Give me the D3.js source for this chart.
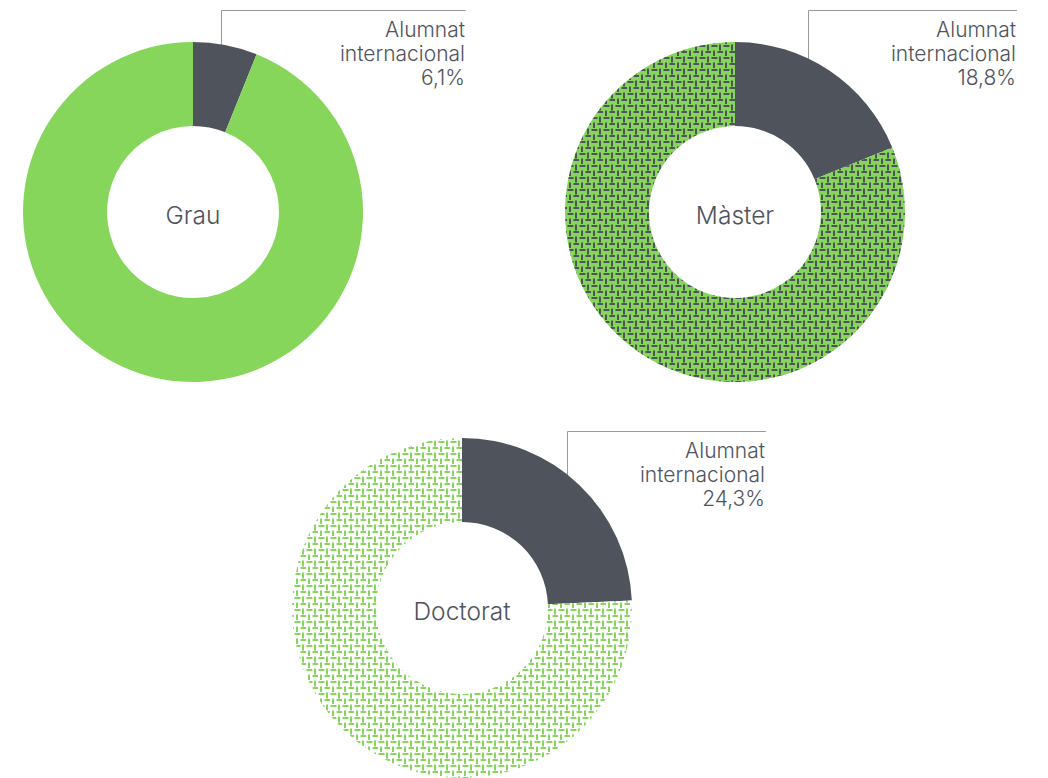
<!DOCTYPE html>
<html>
<head>
<meta charset="utf-8">
<script src="https://cdn.jsdelivr.net/npm/d3@7"></script>
<style>
  body { margin: 0; background: #fff; }
  svg text { font-family: Inter, "Open Sans", sans-serif; fill: #4f535c; font-weight: 300; }
</style>
</head>
<body>
<svg id="chart" width="1048" height="778"></svg>
<script>
// Dades
const levels = ["Grau", "Màster", "Doctorat"];
const internationalPct = [6.1, 18.8, 24.3];
const sliceLabel = ["Alumnat", "internacional"];

// Colors
const GREEN = "#85d65a";
const DARK = "#4f535c";
const LINE = "#9b9b9b";

const svg = d3.select("#chart");
const defs = svg.append("defs");

// Patró de teixit (trama) per Màster i Doctorat
function weave(id, bg, fg) {
    const p = defs.append("pattern")
        .attr("id", id)
        .attr("patternUnits", "userSpaceOnUse")
        .attr("width", 12).attr("height", 12);
    p.append("rect").attr("width", 12).attr("height", 12).attr("fill", bg);
    const g = p.append("g").attr("stroke", fg).attr("stroke-width", 2);
    g.append("line").attr("x1", 0.5).attr("x2", 6.5).attr("y1", 2).attr("y2", 2);
    g.append("line").attr("x1", 9).attr("x2", 9).attr("y1", 0.5).attr("y2", 6.5);
    g.append("line").attr("x1", 6.5).attr("x2", 12.5).attr("y1", 8).attr("y2", 8);
    g.append("line").attr("x1", 3).attr("x2", 3).attr("y1", 6.5).attr("y2", 12.5);
}
weave("weaveDark", GREEN, DARK);
weave("weaveLight", "#ffffff", GREEN);

const restFill = [GREEN, "url(#weaveDark)", "url(#weaveLight)"];

// Posicions de cada donut
const centers = [[193, 212], [735, 212], [462, 608]];
const leaderX = [221, 808, 567];
const leaderTop = [10, 10, 431];
const textRight = [466, 1017, 766];

const outerR = 170, innerR = 86;

const pie = d3.pie().sort(null).value(d => d);
const arc = d3.arc().innerRadius(innerR).outerRadius(outerR);

levels.forEach((name, i) => {
    const [cx, cy] = centers[i];
    const pct = internationalPct[i];

    // línia guia (fins a la vora exterior)
    const dx = leaderX[i] - cx;
    const yEdge = cy - Math.sqrt(outerR * outerR - dx * dx);
    svg.append("path")
        .attr("d", `M${textRight[i]},${leaderTop[i] + 0.5}H${leaderX[i] + 0.5}V${yEdge + 4}`)
        .attr("fill", "none")
        .attr("stroke", LINE)
        .attr("stroke-width", 1);

    const g = svg.append("g").attr("transform", `translate(${cx},${cy})`);
    const arcs = pie([pct, 100 - pct]);
    g.selectAll("path")
        .data(arcs)
        .join("path")
        .attr("d", arc)
        .attr("fill", (d, j) => j === 0 ? DARK : restFill[i]);

    g.append("text")
        .attr("text-anchor", "middle")
        .attr("y", 3)
        .attr("dy", "0.35em")
        .attr("font-size", 24.5)
        .text(name);

    // etiqueta en línies separades
    const lines = [...sliceLabel, d3.format(".1f")(pct).replace(".", ",") + "%"];
    svg.append("g").selectAll("text")
        .data(lines)
        .join("text")
        .attr("text-anchor", "end")
        .attr("font-size", 21)
        .attr("x", textRight[i] - 1)
        .attr("y", (s, k) => leaderTop[i] + 27 + k * 24)
        .text(s => s);
});
</script>
</body>
</html>
